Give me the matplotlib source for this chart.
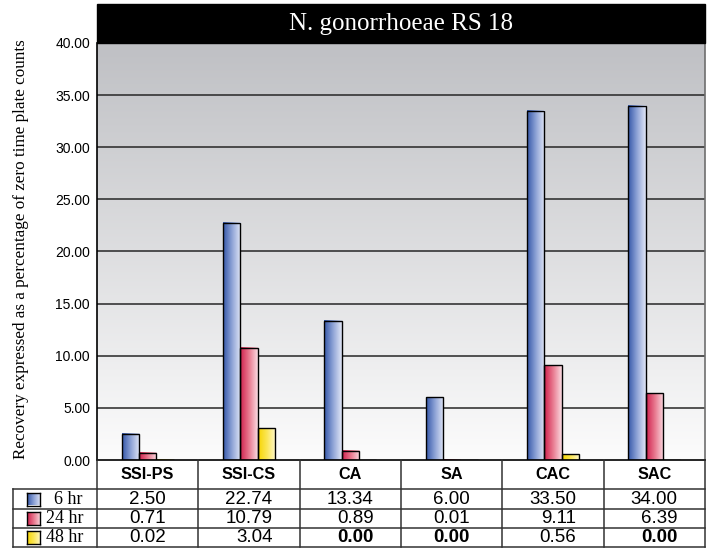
import numpy as np
import matplotlib
matplotlib.use("Agg")
import matplotlib.pyplot as plt
from matplotlib.colors import LinearSegmentedColormap
from matplotlib.patches import Rectangle
from matplotlib.lines import Line2D

# Recovery (% of zero time plate counts) per medium and sampling time
media = ["SSI-PS", "SSI-CS", "CA", "SA", "CAC", "SAC"]
times = ["6 hr", "24 hr", "48 hr"]
recovery_6hr = [2.50, 22.74, 13.34, 6.00, 33.50, 34.00]
recovery_24hr = [0.71, 10.79, 0.89, 0.01, 9.11, 6.39]
recovery_48hr = [0.02, 3.04, 0.00, 0.00, 0.56, 0.00]
yticks = [0, 5, 10, 15, 20, 25, 30, 35, 40]

title = "N. gonorrhoeae RS 18"
ylabel = "Recovery expressed as a percentage of zero time plate counts"

SANS = "Liberation Sans"
SERIF = "Liberation Serif"

blue_cmap = LinearSegmentedColormap.from_list("blue", ["#3356a8", "#8ea3d6", "#e2e7f7"])
red_cmap = LinearSegmentedColormap.from_list("red", ["#cf1f4c", "#e8798f", "#fadbe2"])
yellow_cmap = LinearSegmentedColormap.from_list("yellow", ["#f7d500", "#fbe657", "#fff9cf"])
bg_cmap = LinearSegmentedColormap.from_list("bg", ["#fcfcfc", "#bfc0c4"])

series = [recovery_6hr, recovery_24hr, recovery_48hr]
cmaps = [blue_cmap, red_cmap, yellow_cmap]

# layout in pixels of the 714x548 canvas
W, H = 714, 548
left, right = 97, 705
band_top, plot_top, plot_bottom = 4, 43, 460
row_lines = [489, 509, 528, 547]
table_left = 13


def fx(px):
    return px / W


def fy(py):
    return 1 - py / H


fig = plt.figure(figsize=(W / 100, H / 100), dpi=100)
ax = fig.add_axes([fx(left), fy(plot_bottom), fx(right - left), (plot_bottom - plot_top) / H])

x = np.arange(len(media))
xlim = (-0.5, len(media) - 0.5)
ylim = (0, 40)

# grey-to-white backdrop
grad_v = np.linspace(0, 1, 256).reshape(-1, 1)
ax.imshow(grad_v, cmap=bg_cmap, extent=(*xlim, *ylim), aspect="auto", origin="lower", zorder=0)

for y in yticks[1:-1]:
    ax.axhline(y, color="#262626", lw=1.1, zorder=1)

# bars with left-to-right shading
grad_h = np.linspace(0, 1, 256).reshape(1, -1)
width = 0.17
for k, (vals, cmap) in enumerate(zip(series, cmaps)):
    bars = ax.bar(x + (k - 1) * width, vals, width, facecolor="none",
                  edgecolor="black", lw=1.0, zorder=3)
    for b in bars:
        if b.get_height() <= 0:
            continue
        x0, y0 = b.get_x(), b.get_y()
        ax.imshow(grad_h, cmap=cmap, aspect="auto", zorder=2,
                  extent=(x0, x0 + b.get_width(), y0, y0 + b.get_height()))

ax.set_xlim(*xlim)
ax.set_ylim(*ylim)
ax.set_xticks([])
ax.set_yticks(yticks)
ax.set_yticklabels([f"{v:.2f}" for v in yticks], fontfamily=SANS, fontsize=10)
ax.tick_params(axis="y", length=0, pad=5)
ax.spines["top"].set_visible(False)
ax.spines["left"].set_color("black")
ax.spines["right"].set_color("#6e6e6e")
ax.spines["bottom"].set_color("black")
for s in ax.spines.values():
    s.set_linewidth(1.2)

# title band
fig.patches.append(Rectangle((fx(left), fy(plot_top)), fx(right - left), (plot_top - band_top) / H,
                             transform=fig.transFigure, facecolor="black", edgecolor="black"))
fig.text(fx((left + right) / 2), fy(24), title, color="white", fontfamily=SERIF,
         fontsize=18, ha="center", va="center")

fig.text(fx(21), fy(249), ylabel, rotation=90, fontfamily=SERIF, fontsize=12.3,
         ha="center", va="center")

# data table under the chart
line_kw = dict(color="#333333", lw=1.1, transform=fig.transFigure)
for yl in row_lines:
    fig.lines.append(Line2D([fx(table_left), fx(right)], [fy(yl), fy(yl)], **line_kw))
fig.lines.append(Line2D([fx(table_left), fx(table_left)], [fy(row_lines[0]), fy(row_lines[-1])], **line_kw))
col_w = (right - left) / len(media)
for i in range(len(media) + 1):
    xc = left + i * col_w
    fig.lines.append(Line2D([fx(xc), fx(xc)], [fy(plot_bottom), fy(row_lines[-1])], **line_kw))

header_y = (plot_bottom + row_lines[0]) / 2
row_y = [(row_lines[j] + row_lines[j + 1]) / 2 for j in range(len(times))]

renderer = fig.canvas.get_renderer()
for i, name in enumerate(media):
    xc = fx(left + (i + 0.5) * col_w)
    fig.text(xc, fy(header_y), name, fontfamily=SANS, fontweight="bold", fontsize=11.7,
             ha="center", va="center")
    labels = [f"{vals[i]:.2f}" for vals in series]
    probe = fig.text(0, 0, max(labels, key=len), fontfamily=SANS, fontsize=13.5)
    w = probe.get_window_extent(renderer).width / fig.bbox.width
    probe.remove()
    for j, lab in enumerate(labels):
        fig.text(xc + w / 2, fy(row_y[j]), lab, fontfamily=SANS, fontsize=13.5,
                 fontweight="bold" if lab == "0.00" else "normal", ha="right", va="center")

# series key in the row headers
for j, (name, cmap) in enumerate(zip(times, cmaps)):
    sw = fig.add_axes([fx(27), fy(row_y[j] + 6.5), fx(13), 13 / H])
    sw.imshow(grad_h, cmap=cmap, aspect="auto")
    sw.set_xticks([])
    sw.set_yticks([])
    for s in sw.spines.values():
        s.set_linewidth(1.0)
    fig.text(fx(83), fy(row_y[j]), name, fontfamily=SERIF, fontsize=13, ha="right", va="center")

fig.savefig("out.png", dpi=100)
